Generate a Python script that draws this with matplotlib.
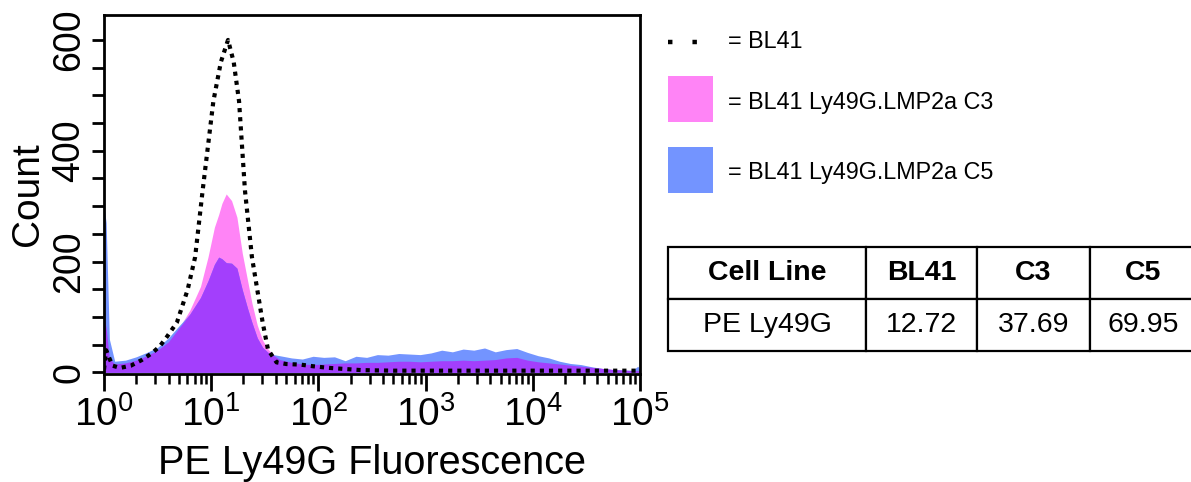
import numpy as np
import matplotlib
matplotlib.use("Agg")
import matplotlib.pyplot as plt
from matplotlib.lines import Line2D
from matplotlib.patches import Rectangle
from matplotlib.ticker import MultipleLocator, LogLocator, NullFormatter

plt.rcParams['font.family'] = ['Liberation Sans', 'DejaVu Sans']
plt.rcParams['mathtext.fontset'] = 'custom'
plt.rcParams['mathtext.rm'] = 'Liberation Sans'
plt.rcParams['mathtext.it'] = 'Liberation Sans'

# position on the log axis (decades) for the two filled histograms
decade = [0.00, 0.02, 0.05, 0.10, 0.20, 0.30, 0.40, 0.50, 0.60, 0.70, 0.80, 0.90,
          0.97, 1.03, 1.07, 1.10, 1.14, 1.19, 1.24, 1.29, 1.34, 1.38, 1.43, 1.48,
          1.53, 1.58, 1.64, 1.75, 1.85, 1.95, 2.05, 2.15, 2.25, 2.35, 2.45, 2.55,
          2.65, 2.75, 2.85, 2.95, 3.05, 3.15, 3.25, 3.35, 3.45, 3.55, 3.65, 3.75,
          3.85, 3.95, 4.05, 4.15, 4.25, 4.35, 4.45, 4.55, 4.65, 4.75, 4.85, 4.93,
          4.98, 5.00]

# BL41 Ly49G.LMP2a C3 (pink)
c3 = [100, 80, 25, 15, 17, 22, 30, 40, 55, 80, 112, 155,
      208, 262, 285, 305, 322, 310, 280, 215, 165, 125, 85, 58,
      42, 31, 23, 18, 15, 14, 15, 16, 17, 17, 18, 18,
      19, 20, 20, 19, 20, 21, 21, 22, 21, 22, 23, 26,
      27, 22, 19, 17, 15, 13, 11, 9, 7, 5, 4, 3,
      3, 3]

# BL41 Ly49G.LMP2a C5 (blue)
c5 = [300, 270, 60, 20, 22, 28, 36, 45, 62, 84, 105, 135,
      165, 195, 208, 205, 198, 197, 188, 149, 115, 90, 62, 45,
      36, 32, 30, 26, 24, 29, 27, 28, 21, 29, 27, 32,
      31, 34, 33, 32, 35, 40, 37, 42, 40, 44, 37, 41,
      43, 36, 30, 26, 20, 16, 14, 10, 7, 5, 4, 4,
      11, 5]

# BL41 parental (dotted)
bl41_decade = [0.00, 0.02, 0.04, 0.08, 0.15, 0.25, 0.35, 0.45, 0.52, 0.59, 0.68,
               0.78, 0.85, 0.92, 1.02, 1.09, 1.157, 1.21, 1.26, 1.315, 1.38, 1.43,
               1.48, 1.53, 1.61, 1.70, 1.83, 1.95, 2.10, 2.25, 2.40, 2.70, 3.00,
               4.00, 5.00]
bl41 = [5, 40, 30, 12, 8, 12, 22, 35, 47, 65, 90,
        149, 208, 328, 489, 560, 600, 560, 489, 328, 208, 149,
        90, 41, 18, 15, 14, 11, 8, 6, 4, 3, 3,
        3, 3]

table_header = ["Cell Line", "BL41", "C3", "C5"]
table_row = ["PE Ly49G", "12.72", "37.69", "69.95"]

pink = "#ff84f6"
blue = "#7394ff"
purple = "#a33ffc"

W, H = 1191, 482
fig = plt.figure(figsize=(W / 100, H / 100), dpi=100)
ax = fig.add_axes([104 / W, (H - 374) / H, (640 - 104) / W, (374 - 15) / H])

x = 10 ** np.array(decade)
c3 = np.array(c3)
c5 = np.array(c5)
ax.fill_between(x, 0, c3, color=pink, lw=0)
ax.fill_between(x, 0, c5, color=blue, lw=0)
ax.fill_between(x, 0, np.minimum(c3, c5), color=purple, lw=0)
ax.plot(10 ** np.array(bl41_decade), bl41, color="black", lw=3,
        linestyle=(0, (1, 1.2)))

ax.set_xscale('log')
ax.set_xlim(1, 1e5)
ax.set_ylim(-3, 645)
ax.xaxis.set_major_locator(LogLocator(base=10, numticks=10))
ax.xaxis.set_minor_locator(LogLocator(base=10, subs=np.arange(2, 10), numticks=10))
ax.xaxis.set_minor_formatter(NullFormatter())
ax.yaxis.set_major_locator(MultipleLocator(200))
ax.yaxis.set_minor_locator(MultipleLocator(50))

for s in ax.spines.values():
    s.set_linewidth(2)
ax.tick_params(axis='both', which='major', direction='out', width=2)
ax.tick_params(axis='x', which='major', length=12, pad=4, labelsize=28)
ax.tick_params(axis='x', which='minor', length=7, width=1.8)
ax.tick_params(axis='y', which='major', length=9, pad=3, labelsize=27)
ax.tick_params(axis='y', which='minor', length=9, width=2)
for lab in ax.get_yticklabels():
    lab.set_rotation(90)
    lab.set_va('center')

ax.set_ylabel("Count", fontsize=28, labelpad=4)
ax.set_xlabel("PE Ly49G Fluorescence", fontsize=28.5, labelpad=7)

# legend drawn beside the plot
fig.add_artist(Line2D([668 / W, 712 / W], [(H - 42) / H] * 2, transform=fig.transFigure,
                      color="black", lw=3.2, linestyle=(0, (1, 4.5)), solid_capstyle='butt'))
fig.add_artist(Rectangle((668 / W, (H - 122) / H), 45 / W, 46 / H, transform=fig.transFigure,
                         color=pink, lw=0))
fig.add_artist(Rectangle((668 / W, (H - 193) / H), 45 / W, 46 / H, transform=fig.transFigure,
                         color=blue, lw=0))
fig.text(728 / W, (H - 42) / H, "= BL41", fontsize=16.8, va='center')
fig.text(728 / W, (H - 102) / H, "= BL41 Ly49G.LMP2a C3", fontsize=16.8, va='center')
fig.text(728 / W, (H - 172) / H, "= BL41 Ly49G.LMP2a C5", fontsize=16.8, va='center')

# percentage table
tax = fig.add_axes([668 / W, (H - 351) / H, (1196 - 668) / W, (351 - 247) / H])
tax.axis('off')
widths = np.array([198, 111, 113, 106], dtype=float)
tbl = tax.table(cellText=[table_row], colLabels=table_header, cellLoc='center',
                colWidths=list(widths / widths.sum()), bbox=[0, 0, 1, 1])
tbl.auto_set_font_size(False)
tbl.set_fontsize(20.5)
for (r, c), cell in tbl.get_celld().items():
    cell.set_linewidth(1.6)
    if r == 0:
        cell.get_text().set_fontweight('bold')

fig.savefig("out.png", dpi=100)
